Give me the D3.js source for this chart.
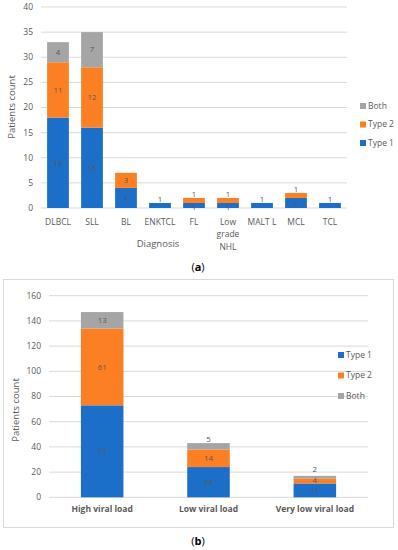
<!DOCTYPE html>
<html>
<head>
<meta charset="utf-8">
<script src="https://cdn.jsdelivr.net/npm/d3@7"></script>
<style>
  body { margin: 0; background: #fff; }
  text { font-family: "Open Sans", sans-serif; }
</style>
</head>
<body>
<svg width="398" height="550"></svg>
<script>
// chart (a) data
var diagnoses = ["DLBCL", "SLL", "BL", "ENKTCL", "FL", "Low grade NHL", "MALT L", "MCL", "TCL"];
var type1A = [18, 16, 4, 1, 1, 1, 1, 2, 1];
var type2A = [11, 12, 3, 0, 1, 1, 0, 1, 0];
var bothA = [4, 7, 0, 0, 0, 0, 0, 0, 0];

// chart (b) data
var loads = ["High viral load", "Low viral load", "Very low viral load"];
var type1B = [73, 24, 11];
var type2B = [61, 14, 4];
var bothB = [13, 5, 2];

var seriesKeys = ["Type 1", "Type 2", "Both"];
var colors = {"Type 1": "#1c6fc9", "Type 2": "#fd7f23", "Both": "#a5a5a5"};

var svg = d3.select("svg");
svg.append("rect").attr("width", 398).attr("height", 550).attr("fill", "#fff");

function buildRows(cats, a, b, c) {
    return cats.map(function(d, i) {
        return {cat: d, "Type 1": a[i], "Type 2": b[i], "Both": c[i]};
    });
}

function drawChart(opt) {
    var g = svg.append("g");
    var rows = buildRows(opt.cats, opt.s1, opt.s2, opt.s3);
    var stacked = d3.stack().keys(seriesKeys)(rows);

    var x = d3.scaleBand().domain(opt.cats).range([opt.x0, opt.x1]).paddingInner(opt.pad).paddingOuter(opt.pad / 2);
    var y = d3.scaleLinear().domain([0, opt.ymax]).range([opt.y0, opt.y1]);

    // gridlines
    g.selectAll("line.grid")
        .data(d3.range(0, opt.ymax + 1, opt.step))
        .enter().append("line")
        .attr("x1", opt.x0).attr("x2", opt.x1)
        .attr("y1", function(d) { return y(d); })
        .attr("y2", function(d) { return y(d); })
        .attr("stroke", "#d9d9d9").attr("stroke-width", 1);

    // y tick labels
    g.selectAll("text.ytick")
        .data(d3.range(0, opt.ymax + 1, opt.step))
        .enter().append("text")
        .attr("x", opt.x0 - 8)
        .attr("y", function(d) { return y(d); })
        .attr("dy", "0.35em")
        .attr("text-anchor", "end")
        .attr("font-size", 8.5)
        .attr("fill", "#595959")
        .text(function(d) { return d; });

    // bars
    stacked.forEach(function(layer) {
        g.selectAll(null)
            .data(layer.filter(function(d) { return d[1] > d[0]; }))
            .enter().append("rect")
            .attr("x", function(d) { return x(d.data.cat); })
            .attr("width", x.bandwidth())
            .attr("y", function(d) { return y(d[1]); })
            .attr("height", function(d) { return y(d[0]) - y(d[1]); })
            .attr("fill", colors[layer.key]);
    });

    // data labels - small segments get nudged, and labels pushed apart bottom-up
    rows.forEach(function(r, ci) {
        var prevY = null;
        var total = r["Type 1"] + r["Type 2"] + r["Both"];
        stacked.forEach(function(layer) {
            var d = layer[ci];
            if (d[1] <= d[0]) return;
            var top = y(d[1]), bot = y(d[0]);
            var ly = (top + bot) / 2;
            if (bot - top < 8) {
                ly = d[1] === total ? top - 4 : ly + opt.smallNudge;
            }
            if (prevY !== null) ly = Math.min(ly, prevY - 10.5);
            prevY = ly;
            g.append("text")
                .attr("x", x(r.cat) + x.bandwidth() / 2)
                .attr("y", ly)
                .attr("dy", "0.35em")
                .attr("text-anchor", "middle")
                .attr("font-size", 7.8)
                .attr("fill", "#595959")
                .text(d[1] - d[0]);
        });
    });

    // x labels
    opt.cats.forEach(function(c) {
        var words = opt.wrap ? (c === "Low grade NHL" ? ["Low", "grade", "NHL"] : [c]) : [c];
        var t = g.append("text")
            .attr("x", x(c) + x.bandwidth() / 2)
            .attr("y", opt.labelY)
            .attr("text-anchor", "middle")
            .attr("font-size", opt.xFont)
            .attr("font-weight", opt.xBold ? "bold" : "normal")
            .attr("fill", "#595959");
        words.forEach(function(w, i) {
            t.append("tspan").attr("x", x(c) + x.bandwidth() / 2).attr("dy", i === 0 ? 0 : 12.3).text(w);
        });
    });

    // y title
    g.append("text")
        .attr("transform", "translate(" + opt.ytX + "," + opt.ytY + ") rotate(-90)")
        .attr("text-anchor", "middle")
        .attr("font-size", 9.5)
        .attr("fill", "#595959")
        .text("Patients count");

    // legend
    opt.legendOrder.forEach(function(k, i) {
        var ly = opt.legY + i * opt.legStep;
        g.append("rect").attr("x", opt.legX).attr("y", ly - 3).attr("width", 6).attr("height", 6).attr("fill", colors[k]);
        g.append("text").attr("x", opt.legX + 8).attr("y", ly).attr("dy", "0.35em")
            .attr("font-size", 8.5).attr("fill", "#595959").text(k);
    });
    return g;
}

drawChart({
    cats: diagnoses, s1: type1A, s2: type2A, s3: bothA,
    x0: 41, x1: 347, y0: 208, y1: 7, ymax: 40, step: 5, pad: 0.36,
    labelY: 225, xFont: 8.5, xBold: false, wrap: true, smallNudge: 1.5,
    ytX: 15, ytY: 107,
    legendOrder: ["Both", "Type 2", "Type 1"], legX: 360, legY: 106, legStep: 18.5
});

svg.append("text").attr("x", 158).attr("y", 247).attr("text-anchor", "middle")
    .attr("font-size", 9.5).attr("fill", "#595959").text("Diagnosis");

svg.append("text").attr("x", 198).attr("y", 271).attr("text-anchor", "middle")
    .attr("font-family", "Liberation Serif, serif")
    .attr("font-size", 11).attr("fill", "#000")
    .html("(<tspan font-weight='bold'>a</tspan>)");

// chart (b) frame
svg.append("rect").attr("x", 3.5).attr("y", 279.5).attr("width", 390).attr("height", 248)
    .attr("fill", "none").attr("stroke", "#d9d9d9");

drawChart({
    cats: loads, s1: type1B, s2: type2B, s3: bothB,
    x0: 49, x1: 368, y0: 497.3, y1: 295.7, ymax: 160, step: 20, pad: 0.6,
    labelY: 512, xFont: 8.5, xBold: true, wrap: false, smallNudge: -1,
    ytX: 19, ytY: 410,
    legendOrder: ["Type 1", "Type 2", "Both"], legX: 338, legY: 355, legStep: 20.5
});

svg.append("text").attr("x", 198).attr("y", 545).attr("text-anchor", "middle")
    .attr("font-family", "Liberation Serif, serif")
    .attr("font-size", 11).attr("fill", "#000")
    .html("(<tspan font-weight='bold'>b</tspan>)");
</script>
</body>
</html>
